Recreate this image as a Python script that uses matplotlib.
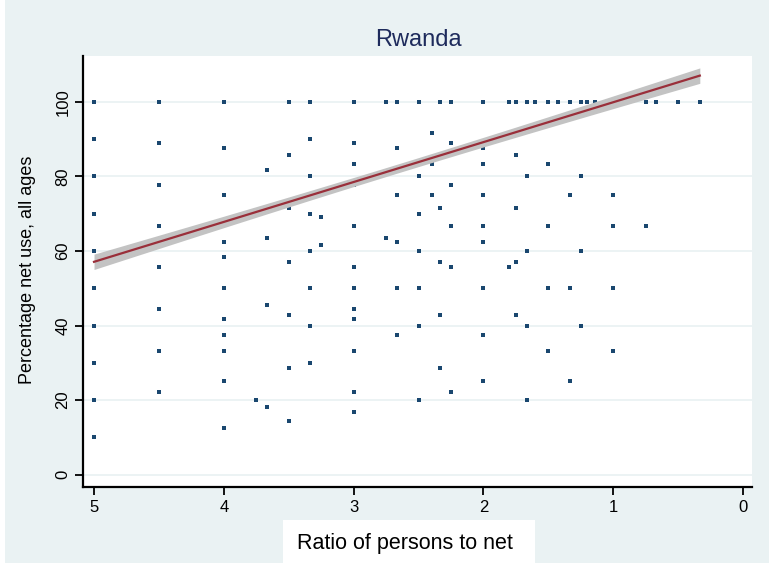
import matplotlib
matplotlib.use("Agg")
import matplotlib.pyplot as plt
import numpy as np
from matplotlib.patches import Rectangle

plt.rcParams["font.family"] = ["Liberation Sans", "DejaVu Sans"]

# Household ratio of persons to nets (x) and percentage of members using a net (y)
persons_per_net = [
    5, 5, 5, 5, 5, 5, 5, 5, 5, 5,
    4.5, 4.5, 4.5, 4.5, 4.5, 4.5, 4.5, 4.5,
    4, 4, 4, 4, 4, 4, 4, 4, 4, 4, 4,
    3.75,
    3.667, 3.667, 3.667, 3.667,
    3.5, 3.5, 3.5, 3.5, 3.5, 3.5, 3.5,
    3.333, 3.333, 3.333, 3.333, 3.333, 3.333, 3.333, 3.333,
    3.25, 3.25,
    3, 3, 3, 3, 3, 3, 3, 3, 3, 3, 3, 3,
    2.75, 2.75,
    2.667, 2.667, 2.667, 2.667, 2.667, 2.667,
    2.5, 2.5, 2.5, 2.5, 2.5, 2.5, 2.5,
    2.4, 2.4, 2.4,
    2.333, 2.333, 2.333, 2.333, 2.333,
    2.25, 2.25, 2.25, 2.25, 2.25, 2.25,
    2, 2, 2, 2, 2, 2, 2, 2, 2,
    1.8, 1.8,
    1.75, 1.75, 1.75, 1.75, 1.75,
    1.667, 1.667, 1.667, 1.667, 1.667,
    1.6,
    1.5, 1.5, 1.5, 1.5, 1.5,
    1.429,
    1.333, 1.333, 1.333, 1.333,
    1.25, 1.25, 1.25, 1.25,
    1.2,
    1.143,
    1, 1, 1, 1,
    0.75, 0.75,
    0.667,
    0.5,
    0.333,
]
pct_net_use = [
    100, 90, 80, 70, 60, 50, 40, 30, 20, 10,
    100, 88.9, 77.8, 66.7, 55.6, 44.4, 33.3, 22.2,
    100, 87.5, 75, 62.5, 58.3, 50, 41.7, 37.5, 33.3, 25, 12.5,
    20,
    81.8, 63.6, 45.5, 18.2,
    100, 85.7, 71.4, 57.1, 42.9, 28.6, 14.3,
    100, 90, 80, 70, 60, 50, 40, 30,
    69.2, 61.5,
    100, 88.9, 83.3, 77.8, 66.7, 55.6, 50, 44.4, 41.7, 33.3, 22.2, 16.7,
    100, 63.6,
    100, 87.5, 75, 62.5, 50, 37.5,
    100, 80, 70, 60, 50, 40, 20,
    91.7, 83.3, 75,
    100, 71.4, 57.1, 42.9, 28.6,
    100, 88.9, 77.8, 66.7, 55.6, 22.2,
    100, 87.5, 83.3, 75, 66.7, 62.5, 50, 37.5, 25,
    100, 55.6,
    100, 85.7, 71.4, 57.1, 42.9,
    100, 80, 60, 40, 20,
    100,
    100, 83.3, 66.7, 50, 33.3,
    100,
    100, 75, 50, 25,
    100, 80, 60, 40,
    100,
    100,
    75, 66.7, 50, 33.3,
    100, 66.7,
    100,
    100,
    100,
]

# Linear fit with 95% confidence band
fit_intercept = 110.6
fit_slope = -10.7
ci_center = 2.67
ci_min_halfwidth = 1.2
ci_spread = 0.72

x_ticks = [5, 4, 3, 2, 1, 0]
y_ticks = [0, 20, 40, 60, 80, 100]

BG = "#EAF2F3"
NAVY = "#1A476F"
MAROON = "#9A2F3A"
BAND = "#C3C3C3"

W, H = 769, 563
fig = plt.figure(figsize=(W / 100, H / 100), dpi=100)
fig.patch.set_facecolor(BG)


def fx(px):
    return px / W


def fy(py):
    return 1 - py / H


# narrow white margin on the left edge
fig.add_artist(Rectangle((0, 0), fx(5), 1, transform=fig.transFigure,
                         facecolor="white", edgecolor="none", zorder=0))

ax = fig.add_axes([fx(83), fy(487), fx(752) - fx(83), fy(56) - fy(487)])
ax.set_facecolor("white")

x = np.array(persons_per_net)
y = np.array(pct_net_use)
ax.plot(x, y, linestyle="none", marker="s", markersize=2.3,
        markeredgewidth=0, color=NAVY, zorder=2)

xf = np.linspace(x.min(), x.max(), 200)
yf = fit_intercept + fit_slope * xf
hw = np.sqrt(ci_min_halfwidth ** 2 + (ci_spread * (xf - ci_center)) ** 2)
ax.fill_between(xf, yf - hw, yf + hw, color=BAND, linewidth=0, zorder=3)
ax.plot(xf, yf, color=MAROON, linewidth=1.6, zorder=4)

ax.set_xlim(5.085, -0.069)
ax.set_ylim(-3.3, 112.3)
ax.set_xticks(x_ticks)
ax.set_yticks(y_ticks)
ax.set_xticklabels([str(t) for t in x_ticks])
ax.set_yticklabels([str(t) for t in y_ticks], rotation=90, va="center")
ax.tick_params(direction="out", length=6, width=1.3, labelsize=12,
               colors="black", pad=3)
ax.grid(axis="y", color=BG, linewidth=1.3, zorder=0)
ax.set_axisbelow(True)
for side in ("top", "right"):
    ax.spines[side].set_visible(False)
for side in ("left", "bottom"):
    ax.spines[side].set_linewidth(1.6)
    ax.spines[side].set_color("black")

fig.text(fx(418), fy(40), "Rwanda", ha="center", va="center",
         fontsize=17, color="#1E2B5C")

fig.add_artist(Rectangle((fx(283), 0), fx(535) - fx(283), fy(520),
                         transform=fig.transFigure, facecolor="white",
                         edgecolor="none", zorder=1))
fig.text(fx(405), fy(543), "Ratio of persons to net", ha="center",
         va="center", fontsize=15.5, color="black", zorder=2)
fig.text(fx(28), fy(270), "Percentage net use, all ages", ha="center",
         va="center", rotation=90, fontsize=13, color="black")

fig.savefig("out.png", dpi=100, facecolor=fig.get_facecolor())
